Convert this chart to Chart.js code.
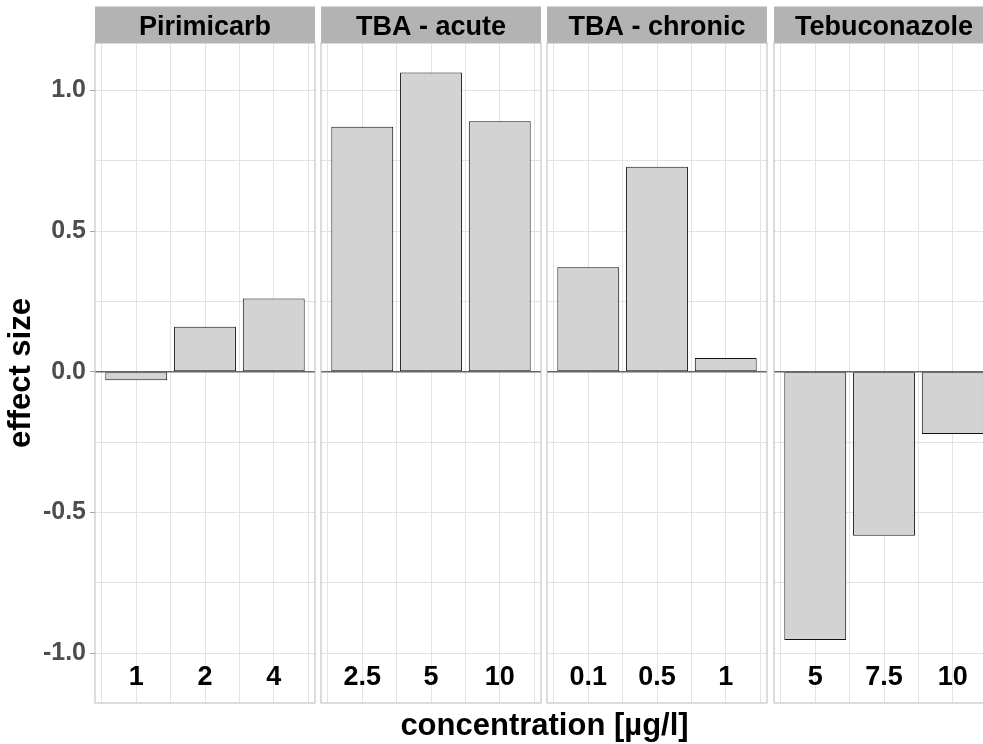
<!DOCTYPE html>
<html>
<head>
<meta charset="utf-8">
<script src="https://cdn.jsdelivr.net/npm/chart.js@4.4.1/dist/chart.umd.min.js"></script>
<style>
html, body { margin: 0; padding: 0; background: #ffffff; overflow: hidden; width: 983px; height: 744px; }
.panel { position: absolute; top: 0; height: 744px; }
#xtitle { position: absolute; left: 0; width: 1089px; top: 709px; font: bold 31px "Liberation Sans", Arial, sans-serif; line-height: 31px; text-align: center; color: #000; white-space: nowrap; }
</style>
</head>
<body>
<div id="p0" class="panel"><canvas id="c0"></canvas></div>
<div id="p1" class="panel"><canvas id="c1"></canvas></div>
<div id="p2" class="panel"><canvas id="c2"></canvas></div>
<div id="p3" class="panel"><canvas id="c3"></canvas></div>
<div id="xtitle">concentration [µg/l]</div>
<script>
// ---- data ----
const panelNames = ['Pirimicarb', 'TBA - acute', 'TBA - chronic', 'Tebuconazole'];
const concPirimicarb = ['1', '2', '4'];
const concTbaAcute = ['2.5', '5', '10'];
const concTbaChronic = ['0.1', '0.5', '1'];
const concTebuconazole = ['5', '7.5', '10'];
const effectPirimicarb = [-0.03, 0.16, 0.26];
const effectTbaAcute = [0.87, 1.063, 0.89];
const effectTbaChronic = [0.371, 0.728, 0.049];
const effectTebuconazole = [-0.953, -0.583, -0.221];
const yTitle = 'effect size';

const concs = [concPirimicarb, concTbaAcute, concTbaChronic, concTebuconazole];
const effects = [effectPirimicarb, effectTbaAcute, effectTbaChronic, effectTebuconazole];

// ---- layout / style ----
const FONT = '"Liberation Sans", Arial, sans-serif';
const panelLefts = [95, 321, 547, 774];
const panelWidth = 220;
const yAxisWidth = 95;
const gridColor = '#E3E3E3';

const decor = {
  id: 'decor',
  afterDatasetsDraw(chart) {
    const { ctx, chartArea: a, scales: { x, y } } = chart;
    const cfg = chart.options.plugins.decor;
    ctx.save();
    // zero reference line
    const y0 = y.getPixelForValue(0);
    ctx.strokeStyle = '#666666';
    ctx.lineWidth = 1.5;
    ctx.beginPath();
    ctx.moveTo(a.left, y0);
    ctx.lineTo(a.right, y0);
    ctx.stroke();
    // panel border
    ctx.strokeStyle = '#BABABA';
    ctx.lineWidth = 1;
    ctx.strokeRect(a.left, a.top, a.right - a.left, a.bottom - a.top);
    // strip
    ctx.fillStyle = '#B3B3B3';
    ctx.fillRect(a.left, a.top - 36.5, a.right - a.left, 36.5);
    ctx.fillStyle = '#000';
    ctx.font = 'bold 27px ' + FONT;
    ctx.textAlign = 'center';
    ctx.textBaseline = 'alphabetic';
    ctx.fillText(cfg.strip, (a.left + a.right) / 2, a.top - 8);
    // category labels inside the panel
    ctx.font = 'bold 27px ' + FONT;
    cfg.labels.forEach((lab, k) => {
      ctx.fillText(lab, x.getPixelForValue(k + 1), a.bottom - 18);
    });
    ctx.restore();
  }
};

function isMajor(v) { return Math.abs(v * 2 - Math.round(v * 2)) < 1e-9; }

panelNames.forEach((name, i) => {
  const first = i === 0;
  const div = document.getElementById('p' + i);
  const canvas = document.getElementById('c' + i);
  const left = first ? 0 : panelLefts[i] - 1;
  const width = first ? yAxisWidth + panelWidth + 1 : panelWidth + 2;
  div.style.left = left + 'px';
  div.style.width = width + 'px';
  canvas.width = width;
  canvas.height = 744;
  canvas.style.width = width + 'px';
  canvas.style.height = '744px';

  new Chart(canvas, {
    type: 'bar',
    data: {
      datasets: [{
        data: effects[i].map((v, k) => ({ x: k + 1, y: v })),
        backgroundColor: '#D3D3D3',
        borderColor: '#111111',
        borderWidth: 1,
        borderSkipped: false,
        barPercentage: 0.9,
        categoryPercentage: 2
      }]
    },
    options: {
      responsive: false,
      animation: false,
      devicePixelRatio: 1,
      layout: { padding: { top: 43, bottom: 41, left: first ? 0 : 1, right: 1 } },
      plugins: {
        legend: { display: false },
        tooltip: { enabled: false },
        decor: { strip: name, labels: concs[i] }
      },
      scales: {
        x: {
          type: 'linear',
          min: 0.4, max: 3.6,
          offset: false,
          ticks: { stepSize: 0.5, includeBounds: false, display: false },
          grid: { offset: false, color: gridColor, lineWidth: 1, drawTicks: false },
          border: { display: false },
          afterFit: s => { s.height = 0; }
        },
        y: {
          type: 'linear',
          min: -1.177, max: 1.168,
          ticks: {
            stepSize: 0.25,
            includeBounds: false,
            display: first,
            padding: 4,
            color: '#4D4D4D',
            font: { family: FONT, size: 25, weight: 'bold' },
            callback: v => isMajor(v) ? v.toFixed(1) : ''
          },
          grid: {
            color: gridColor,
            lineWidth: 1,
            drawTicks: first,
            tickLength: 5,
            tickColor: ctx => (ctx.tick && isMajor(ctx.tick.value)) ? '#A6A6A6' : 'rgba(0,0,0,0)'
          },
          border: { display: false },
          title: {
            display: first,
            text: yTitle,
            color: '#000',
            font: { family: FONT, size: 31, weight: 'bold' },
            padding: { top: 3, bottom: 0 }
          },
          afterFit: s => { s.width = first ? yAxisWidth : 0; }
        }
      }
    },
    plugins: [decor]
  });
});
</script>
</body>
</html>
